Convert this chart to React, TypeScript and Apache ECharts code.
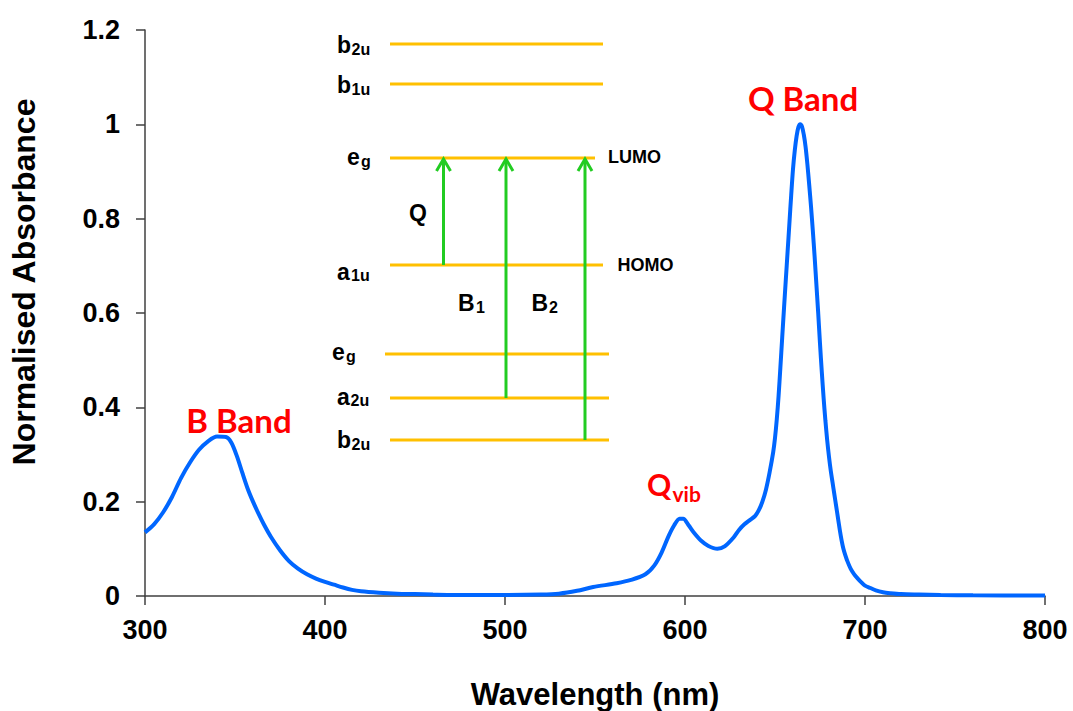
import React, { useEffect, useRef } from 'react';
import * as echarts from 'echarts';

// ---- Data ----
const wavelengths = [
  300, 305, 310, 315, 320, 325, 330, 335, 340, 345, 348, 351, 354, 357, 360, 363, 366, 370, 375, 380,
  385, 390, 395, 400, 405, 410, 415, 420, 430, 440, 450, 460, 480, 500, 520, 530, 540, 549, 562, 570,
  578, 583, 587, 591, 594, 597, 599, 602, 605, 609, 613, 618, 622, 627, 630, 633, 636, 639, 641, 643,
  645, 647, 649, 650, 651, 652, 653, 654, 655, 656, 657, 658, 659, 660, 661, 662, 663, 664, 665, 666,
  667, 668, 669, 670, 671, 672, 673, 674, 675, 676, 677, 678, 679, 680, 681, 682, 683, 684, 685, 686,
  687, 688, 689, 690, 692, 694, 696, 698, 700, 703, 706, 710, 714, 720, 730, 742, 760, 800,
];
const absorbance = [
  0.135, 0.152, 0.177, 0.21, 0.25, 0.283, 0.31, 0.328, 0.338, 0.337, 0.325, 0.297, 0.262, 0.228, 0.2, 0.175, 0.152, 0.125, 0.097, 0.074,
  0.058, 0.046, 0.037, 0.03, 0.024, 0.018, 0.013, 0.01, 0.007, 0.005, 0.004, 0.003, 0.002, 0.002, 0.003, 0.005, 0.011, 0.019, 0.027, 0.034,
  0.046, 0.065, 0.092, 0.128, 0.15, 0.164, 0.164, 0.15, 0.134, 0.117, 0.106, 0.1, 0.105, 0.124, 0.14, 0.152, 0.161, 0.17, 0.182, 0.2,
  0.226, 0.262, 0.305, 0.335, 0.375, 0.425, 0.485, 0.548, 0.61, 0.67, 0.73, 0.79, 0.85, 0.905, 0.945, 0.975, 0.994, 1.0, 0.995, 0.978,
  0.952, 0.915, 0.872, 0.826, 0.775, 0.72, 0.66, 0.6, 0.535, 0.475, 0.42, 0.372, 0.33, 0.295, 0.265, 0.24, 0.215, 0.19, 0.165, 0.14,
  0.118, 0.1, 0.087, 0.076, 0.058, 0.046, 0.037, 0.029, 0.022, 0.017, 0.012, 0.008, 0.006, 0.004, 0.003, 0.002, 0.0015, 0.001,
];
const xTicks = [300, 400, 500, 600, 700, 800];
const yTicks = [0, 0.2, 0.4, 0.6, 0.8, 1, 1.2];

const xTitle = 'Wavelength (nm)';
const yTitle = 'Normalised Absorbance';
const bandLabels = ['B Band', 'Q Band'];

// energy-level diagram content
const levelNames = [
  { main: 'b', sub: '2u' },
  { main: 'b', sub: '1u' },
  { main: 'e', sub: 'g' },
  { main: 'a', sub: '1u' },
  { main: 'e', sub: 'g' },
  { main: 'a', sub: '2u' },
  { main: 'b', sub: '2u' },
];

const ARIAL = '"Liberation Sans", Arial, sans-serif';
const LATO = 'Lato, "Open Sans", sans-serif';
const ORANGE = '#FFC000';
const GREEN = '#22CC22';
const RED = '#FF0000';
const AXIS = '#404040';

function txt(text: string, x: number, baseline: number, size: number, family: string, color = '#000', align = 'left', off = 0.35) {
  return {
    type: 'text',
    x,
    y: baseline - off * size,
    silent: true,
    z: 20,
    style: {
      text,
      fill: color,
      font: `bold ${size}px ${family}`,
      align,
      textAlign: align,
      verticalAlign: 'middle',
      textVerticalAlign: 'middle',
    },
  };
}

function hline(y: number, x1: number, x2: number) {
  return {
    type: 'line',
    silent: true,
    z: 15,
    shape: { x1, y1: y, x2, y2: y },
    style: { stroke: ORANGE, lineWidth: 3 },
  };
}

function arrow(x: number, yFrom: number, yTo: number) {
  return [
    {
      type: 'line',
      silent: true,
      z: 16,
      shape: { x1: x, y1: yFrom, x2: x, y2: yTo },
      style: { stroke: GREEN, lineWidth: 3 },
    },
    {
      type: 'polyline',
      silent: true,
      z: 16,
      shape: { points: [[x - 7, yTo + 12], [x, yTo], [x + 7, yTo + 12]] },
      style: { stroke: GREEN, lineWidth: 3, fill: 'none' },
    },
  ];
}

// layout of the diagram labels (pixel positions)
const levelLayout = [
  { mx: 337, mb: 53, sx: 351.5, sb: 55 },
  { mx: 337, mb: 93, sx: 351.5, sb: 95.5 },
  { mx: 347, mb: 165, sx: 361, sb: 167 },
  { mx: 337, mb: 280, sx: 351, sb: 281.5 },
  { mx: 332, mb: 360, sx: 346, sb: 362 },
  { mx: 337, mb: 405, sx: 350.5, sb: 406.5 },
  { mx: 337, mb: 448, sx: 351.5, sb: 450 },
];

function buildGraphic() {
  const els: any[] = [];
  els.push(hline(44, 390, 603));
  els.push(hline(84, 390, 603));
  els.push(hline(158, 390, 595));
  els.push(hline(265, 390, 603));
  els.push(hline(354, 385, 609));
  els.push(hline(398, 390, 609));
  els.push(hline(440, 390, 609));
  els.push(...arrow(443.5, 265, 159));
  els.push(...arrow(506, 398, 159));
  els.push(...arrow(585, 440, 159));
  levelNames.forEach((n, i) => {
    const l = levelLayout[i];
    els.push(txt(n.main, l.mx, l.mb, 23, ARIAL));
    els.push(txt(n.sub, l.sx, l.sb, 16, ARIAL));
  });
  els.push(txt('LUMO', 608, 163, 18, ARIAL));
  els.push(txt('HOMO', 617.5, 271.5, 18, ARIAL));
  els.push(txt('Q', 409, 221, 23, ARIAL));
  els.push(txt('B', 458, 311.5, 23, ARIAL));
  els.push(txt('1', 476, 313.5, 16, ARIAL));
  els.push(txt('B', 531.5, 311.5, 23, ARIAL));
  els.push(txt('2', 549, 313.5, 16, ARIAL));
  // red band labels
  els.push(txt(bandLabels[0], 239, 433, 33, LATO, RED, 'center', 0.39));
  els.push(txt(bandLabels[1], 803, 111, 33, LATO, RED, 'center', 0.39));
  els.push(txt('Q', 647, 496, 30, LATO, RED, 'left', 0.39));
  els.push(txt('vib', 672.5, 502, 21, LATO, RED, 'left', 0.39));
  // y axis title (rotated)
  els.push({
    type: 'text',
    x: 24,
    y: 282,
    rotation: Math.PI / 2,
    silent: true,
    z: 20,
    style: {
      text: yTitle,
      fill: '#000',
      font: `bold 32px ${ARIAL}`,
      align: 'center',
      textAlign: 'center',
      verticalAlign: 'middle',
      textVerticalAlign: 'middle',
    },
  });
  return els;
}

export default function App() {
  const ref = useRef<HTMLDivElement>(null);
  useEffect(() => {
    document.body.style.margin = '0';
    const chart = echarts.init(ref.current!, null, { renderer: 'svg' });
    const data = wavelengths.map((w, i) => [w, absorbance[i]]);
    chart.setOption({
      animation: false,
      backgroundColor: '#fff',
      grid: { left: 145, right: 28, top: 30, bottom: 115, containLabel: false, outerBoundsMode: 'none' },
      xAxis: {
        type: 'value',
        min: xTicks[0],
        max: xTicks[xTicks.length - 1],
        interval: 100,
        name: xTitle,
        nameLocation: 'middle',
        nameGap: 83,
        nameTextStyle: { fontFamily: ARIAL, fontWeight: 'bold', fontSize: 31, color: '#000' },
        axisLine: { lineStyle: { color: AXIS, width: 1.5 } },
        axisTick: { show: true, inside: false, length: 9, lineStyle: { color: AXIS, width: 1.5 } },
        axisLabel: { margin: 20, fontFamily: ARIAL, fontWeight: 'bold', fontSize: 27, color: '#000' },
        splitLine: { show: false },
      },
      yAxis: {
        type: 'value',
        min: yTicks[0],
        max: yTicks[yTicks.length - 1],
        interval: 0.2,
        axisLine: { show: true, lineStyle: { color: AXIS, width: 1.5 } },
        axisTick: { show: true, inside: false, length: 9, lineStyle: { color: AXIS, width: 1.5 } },
        axisLabel: { margin: 25, fontFamily: ARIAL, fontWeight: 'bold', fontSize: 27, color: '#000' },
        splitLine: { show: false },
      },
      series: [
        {
          type: 'line',
          data,
          smooth: 0.3,
          showSymbol: false,
          symbol: 'none',
          lineStyle: { color: '#0066FF', width: 4 },
          z: 5,
        },
      ],
      graphic: { elements: buildGraphic() },
    });
    return () => chart.dispose();
  }, []);
  return <div ref={ref} style={{ width: 1073, height: 711, position: 'absolute', left: 0, top: 0 }} />;
}
